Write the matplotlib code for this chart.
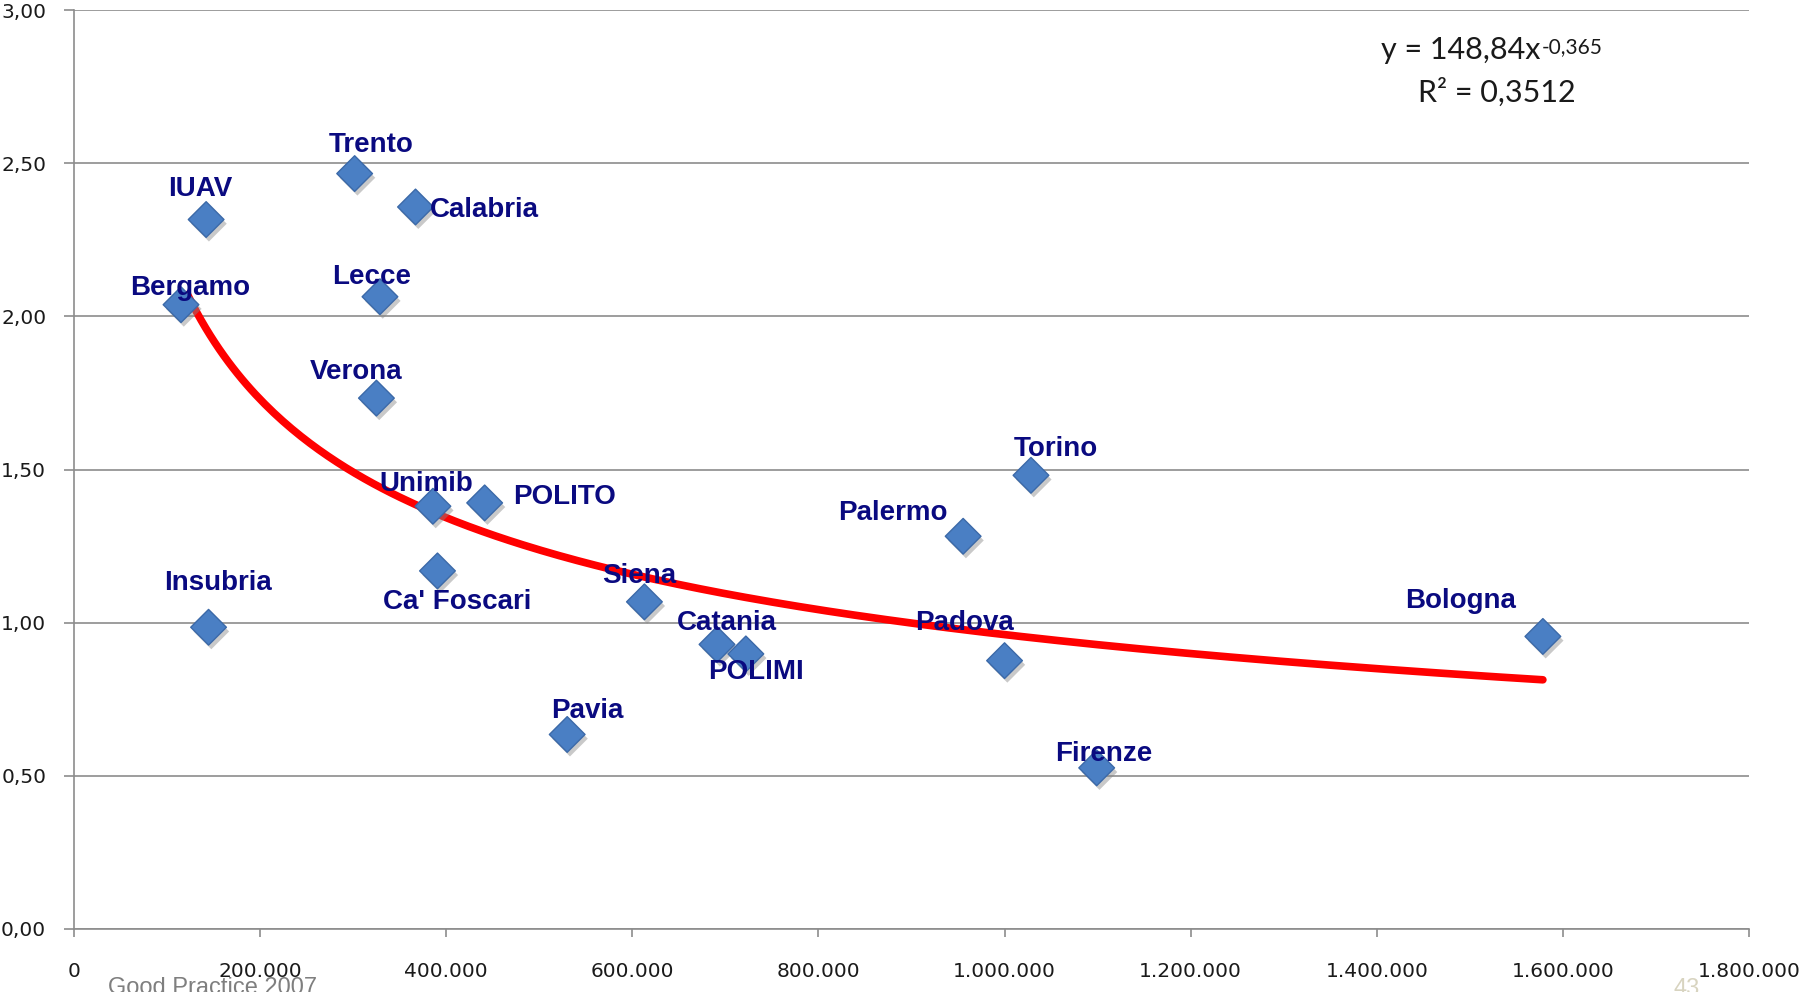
import numpy as np
import matplotlib
matplotlib.use("Agg")
import matplotlib.pyplot as plt
import matplotlib.patheffects as pe
from matplotlib.ticker import FixedLocator, FuncFormatter

# ---- data ----
universities = ["IUAV", "Trento", "Calabria", "Bergamo", "Lecce", "Verona", "Torino",
                "Unimib", "POLITO", "Palermo", "Ca' Foscari", "Siena", "Insubria",
                "Catania", "POLIMI", "Padova", "Bologna", "Pavia", "Firenze"]
x_values = [142000, 301600, 367000, 115000, 328800, 325000, 1028400,
            385700, 441300, 955500, 390600, 613000, 144600,
            691000, 722000, 1000000, 1578500, 530000, 1099000]
y_values = [2.316, 2.466, 2.357, 2.038, 2.064, 1.733, 1.481,
            1.380, 1.391, 1.282, 1.169, 1.068, 0.985,
            0.929, 0.898, 0.876, 0.955, 0.635, 0.526]
fit_a = 148.84
fit_b = -0.365
fit_x_start = 122000
x_ticks = [0, 200000, 400000, 600000, 800000, 1000000, 1200000, 1400000, 1600000, 1800000]
y_ticks = [0.0, 0.5, 1.0, 1.5, 2.0, 2.5, 3.0]

# label offsets in pixels (dx, dy) relative to marker
label_offsets = {
    "IUAV": (-6, 31), "Trento": (17, 29), "Calabria": (69, -3), "Bergamo": (9, 17),
    "Lecce": (-8, 20), "Verona": (-20, 26), "Torino": (25, 26), "Unimib": (-7, 22),
    "POLITO": (80, 6), "Palermo": (-70, 23), "Ca' Foscari": (20, -31), "Siena": (-5, 26),
    "Insubria": (9, 44), "Catania": (10, 21), "POLIMI": (10, -18), "Padova": (-40, 38),
    "Bologna": (-82, 35), "Pavia": (20, 23), "Firenze": (7, 14),
}

W, H = 1803, 992
fig = plt.figure(figsize=(W / 100, H / 100), dpi=100)
ax = fig.add_axes([74 / W, 1 - 929 / H, (1749 - 74) / W, (929 - 10) / H])

ax.set_xlim(0, 1800000)
ax.set_ylim(0, 3.0)

grid_color = "#8c8c8c"
for s in ["top", "right"]:
    ax.spines[s].set_visible(False)
for s in ["left", "bottom"]:
    ax.spines[s].set_color(grid_color)
    ax.spines[s].set_linewidth(1.2)

ax.yaxis.set_major_locator(FixedLocator(y_ticks))
ax.xaxis.set_major_locator(FixedLocator(x_ticks))
ax.yaxis.set_major_formatter(FuncFormatter(lambda v, p: f"{v:.2f}".replace(".", ",")))
ax.xaxis.set_major_formatter(FuncFormatter(lambda v, p: f"{int(v):,}".replace(",", ".")))
ax.grid(axis="y", color=grid_color, linewidth=1.2)
ax.set_axisbelow(True)
ax.tick_params(axis="y", length=7, width=1.2, color=grid_color, pad=13,
               labelsize=14.5, labelcolor="#1a1a1a")
ax.tick_params(axis="x", length=6, width=1.2, color=grid_color, pad=18,
               labelsize=14.5, labelcolor="#1a1a1a")
for lab in ax.get_xticklabels() + ax.get_yticklabels():
    lab.set_fontfamily("DejaVu Sans")

# trend line (Excel power trendline from the printed equation)
xs = np.linspace(fit_x_start, max(x_values), 300)
ax.plot(xs, fit_a * xs ** fit_b, color="#ff0000", linewidth=5.5, zorder=2,
        solid_capstyle="round")

# markers
sc = ax.scatter(x_values, y_values, marker="D", s=330, color="#4a7fc4",
                edgecolors="#3b69a8", linewidths=1.0, zorder=3)
sc.set_path_effects([pe.SimplePatchShadow(offset=(2, -3), shadow_rgbFace="#888888", alpha=0.45),
                     pe.Normal()])

# labels
for name, xv, yv in zip(universities, x_values, y_values):
    dx, dy = label_offsets[name]
    ax.annotate(name, (xv, yv), xytext=(dx, dy), textcoords="offset pixels",
                ha="center", va="center", fontsize=20, fontweight="bold",
                color="#0a0a80", family="Liberation Sans", zorder=4)

# equation
eq_main = fig.text(1381 / W, 1 - 59 / H, "y = 148,84x", ha="left",
                   va="baseline", fontsize=22, family="Lato", color="#1a1a1a")
ax.annotate("-0,365", xy=(1.0, 1.0), xycoords=eq_main, xytext=(1, -1),
            textcoords="offset points", ha="left", va="top", fontsize=15,
            family="Lato", color="#1a1a1a", annotation_clip=False)
fig.text(1497 / W, 1 - 102 / H, "R² = 0,3512", ha="center", va="baseline",
         fontsize=22, family="Lato", color="#1a1a1a")

# footer texts
fig.text(108 / W, 1 - 994 / H, "Good Practice 2007", ha="left", va="baseline",
         fontsize=17, family="Liberation Sans", color="#7f7f7f")
fig.text(1673 / W, 1 - 995 / H, "43", ha="left", va="baseline",
         fontsize=17, family="Liberation Sans", color="#d8d4c0")

fig.savefig("out.png", dpi=100)
